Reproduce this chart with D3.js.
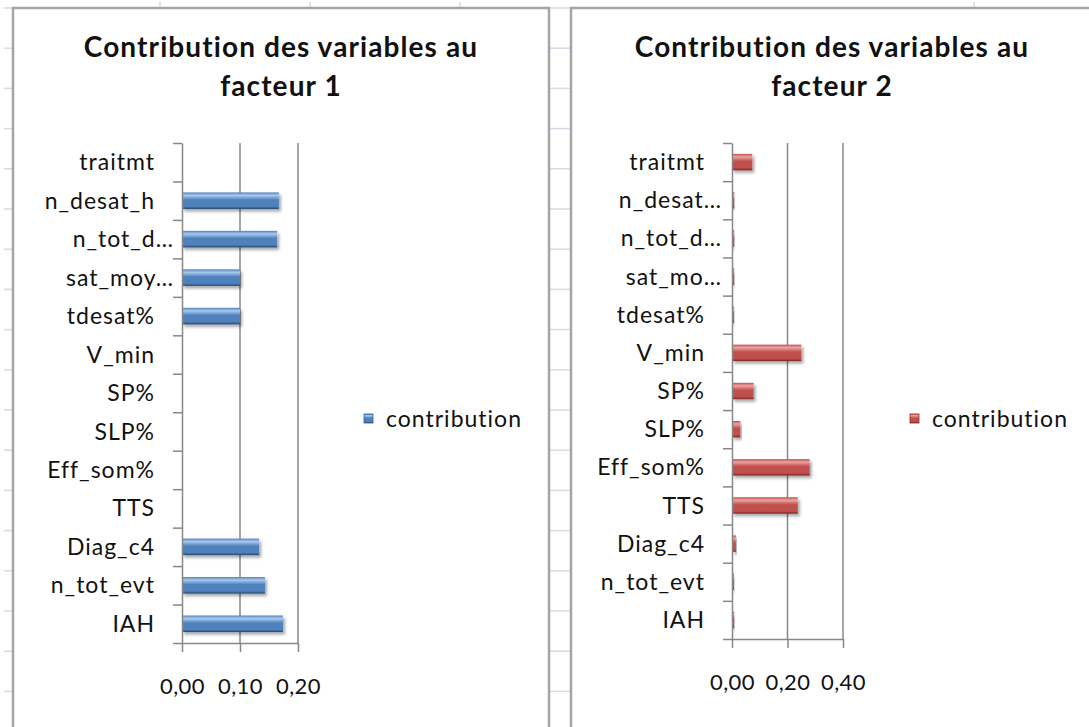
<!DOCTYPE html>
<html lang="fr">
<head>
<meta charset="UTF-8">
<title>Contribution des variables</title>
<style>
    body { margin: 0; background: #fff; }
    svg { display: block; }
    text { font-family: Lato, "Noto Sans", sans-serif; fill: #111; }
    .title { font-weight: bold; font-size: 28px; letter-spacing: 1.1px; }
    .lbl { font-size: 23px; letter-spacing: 1px; }
    .tick text { font-size: 22px; letter-spacing: 0.4px; }
    .axis path, .axis line { stroke: #878787; stroke-width: 1.5px; }
</style>
</head>
<body>
<svg id="chart" width="1089" height="727"></svg>
<script src="https://d3js.org/d3.v7.min.js"></script>
<script>

// variables, top to bottom as in the picture
var labels1 = ["traitmt", "n_desat_h", "n_tot_d…", "sat_moy…", "tdesat%", "V_min", "SP%",
               "SLP%", "Eff_som%", "TTS", "Diag_c4", "n_tot_evt", "IAH"];
var labels2 = ["traitmt", "n_desat…", "n_tot_d…", "sat_mo…", "tdesat%", "V_min", "SP%",
               "SLP%", "Eff_som%", "TTS", "Diag_c4", "n_tot_evt", "IAH"];
// contribution au facteur 1 / facteur 2
var contrib1 = [0, 0.167, 0.164, 0.100, 0.100, 0, 0, 0, 0, 0, 0.133, 0.143, 0.174];
var contrib2 = [0.073, 0.008, 0.008, 0.008, 0.007, 0.250, 0.078, 0.030, 0.280, 0.237, 0.014, 0.007, 0.008];
var ticks1 = [0, 0.10, 0.20];
var ticks2 = [0, 0.20, 0.40];
var titles = [["Contribution des variables au", "facteur 1"], ["Contribution des variables au", "facteur 2"]];
var legendLabel = "contribution";

var svg = d3.select("#chart");
var defs = svg.append("defs");

// excel-like bevelled bar fills
function barGradient(id, light, mid, dark) {
    var g = defs.append("linearGradient").attr("id", id)
        .attr("x1", 0).attr("y1", 0).attr("x2", 0).attr("y2", 1);
    g.append("stop").attr("offset", "0%").attr("stop-color", mid);
    g.append("stop").attr("offset", "18%").attr("stop-color", light);
    g.append("stop").attr("offset", "45%").attr("stop-color", mid);
    g.append("stop").attr("offset", "85%").attr("stop-color", mid);
    g.append("stop").attr("offset", "100%").attr("stop-color", dark);
}
barGradient("blueBar", "#a9c9ef", "#4f81bd", "#23466f");
barGradient("redBar", "#eba4a2", "#c0504d", "#7a2321");
defs.append("filter").attr("id", "shadow")
    .attr("x", "-10%").attr("y", "-30%").attr("width", "130%").attr("height", "190%")
    .append("feDropShadow").attr("dx", 2).attr("dy", 2.5).attr("stdDeviation", 1.5)
    .attr("flood-color", "#000").attr("flood-opacity", 0.35);

// spreadsheet background showing between the chart objects
var bg = svg.append("g");
d3.range(0, 19).forEach(function (k) {
    var y = 8 + k * 40.2;
    bg.append("line").attr("x1", 4).attr("x2", 13).attr("y1", y).attr("y2", y)
        .attr("stroke", "#d3dbe9").attr("stroke-width", 1.5);
    bg.append("line").attr("x1", 549).attr("x2", 571).attr("y1", y).attr("y2", y)
        .attr("stroke", "#d3dbe9").attr("stroke-width", 1.5);
});
[160, 310, 460, 974].forEach(function (x) {
    bg.append("line").attr("x1", x).attr("x2", x).attr("y1", 2).attr("y2", 8)
        .attr("stroke", "#d3dbe9").attr("stroke-width", 1.5);
});

function drawPanel(o) {
    var g = svg.append("g");
    // chart frame
    g.append("rect").attr("x", o.left).attr("y", 8).attr("width", 536).attr("height", 740)
        .attr("fill", "#fff").attr("stroke", "#a5a5a5").attr("stroke-width", 2.5);

    g.selectAll(".title").data(o.title).enter().append("text")
        .attr("class", "title").attr("text-anchor", "middle")
        .attr("x", o.titleX).attr("y", (d, i) => 57 + i * 39)
        .text(d => d);

    var x = d3.scaleLinear().domain([0, o.ticks[o.ticks.length - 1]]).range([o.x0, o.x1]);
    var y = d3.scaleBand().domain(d3.range(o.labels.length))
        .range([o.top, o.bottom]).paddingInner(0.57).paddingOuter(0.285);
    var yIdx = d3.scaleLinear().domain([0, o.labels.length]).range([o.top, o.bottom]);

    // vertical gridlines
    g.selectAll(".grid").data(o.ticks.slice(1)).enter().append("line")
        .attr("x1", d => x(d)).attr("x2", d => x(d))
        .attr("y1", o.top).attr("y2", o.bottom)
        .attr("stroke", "#878787").attr("stroke-width", 1.5);

    // bars
    g.selectAll(".bar").data(o.values).enter().append("rect")
        .attr("x", x(0))
        .attr("y", (d, i) => y(i))
        .attr("width", d => x(d) - x(0))
        .attr("height", y.bandwidth())
        .attr("fill", "url(#" + o.fill + ")")
        .attr("filter", "url(#shadow)");

    // category axis, ticks between categories
    g.append("g").attr("class", "axis")
        .attr("transform", "translate(" + x(0) + ",0)")
        .call(d3.axisLeft(yIdx).tickValues(d3.range(o.labels.length + 1))
            .tickFormat("").tickSize(9).tickSizeOuter(0));

    g.selectAll(".lbl").data(o.labels).enter().append("text")
        .attr("class", "lbl").attr("text-anchor", "end")
        .attr("x", d => x(0) - (d.endsWith("…") ? o.gapShort : 27))
        .attr("y", (d, i) => y(i) + y.bandwidth() / 2)
        .attr("dy", "0.35em")
        .text(d => d);

    // value axis
    g.append("g").attr("class", "axis")
        .attr("transform", "translate(0," + o.bottom + ")")
        .call(d3.axisBottom(x).tickValues(o.ticks).tickSize(9).tickSizeOuter(0)
            .tickPadding(o.tickPad)
            .tickFormat(d => d3.format(".2f")(d).replace(".", ",")));

    // legend
    var lg = g.append("g").attr("transform", "translate(" + o.legendX + ",419)");
    lg.append("rect").attr("x", 0).attr("y", -5).attr("width", 9).attr("height", 9)
        .attr("fill", "url(#" + o.fill + ")").attr("stroke", o.legendStroke).attr("stroke-width", 0.8);
    lg.append("text").attr("class", "lbl").attr("x", 22).attr("dy", "0.35em").text(legendLabel);
}

drawPanel({
    left: 13, titleX: 281, title: titles[0], labels: labels1, values: contrib1, ticks: ticks1,
    x0: 182, x1: 298, top: 143, bottom: 643, gapShort: 8, tickPad: 26,
    fill: "blueBar", legendX: 364, legendStroke: "#2f5f95"
});
drawPanel({
    left: 571, titleX: 832, title: titles[1], labels: labels2, values: contrib2, ticks: ticks2,
    x0: 732, x1: 843, top: 143, bottom: 639, gapShort: 10, tickPad: 26,
    fill: "redBar", legendX: 910, legendStroke: "#8f2d2b"
});

</script>
</body>
</html>
